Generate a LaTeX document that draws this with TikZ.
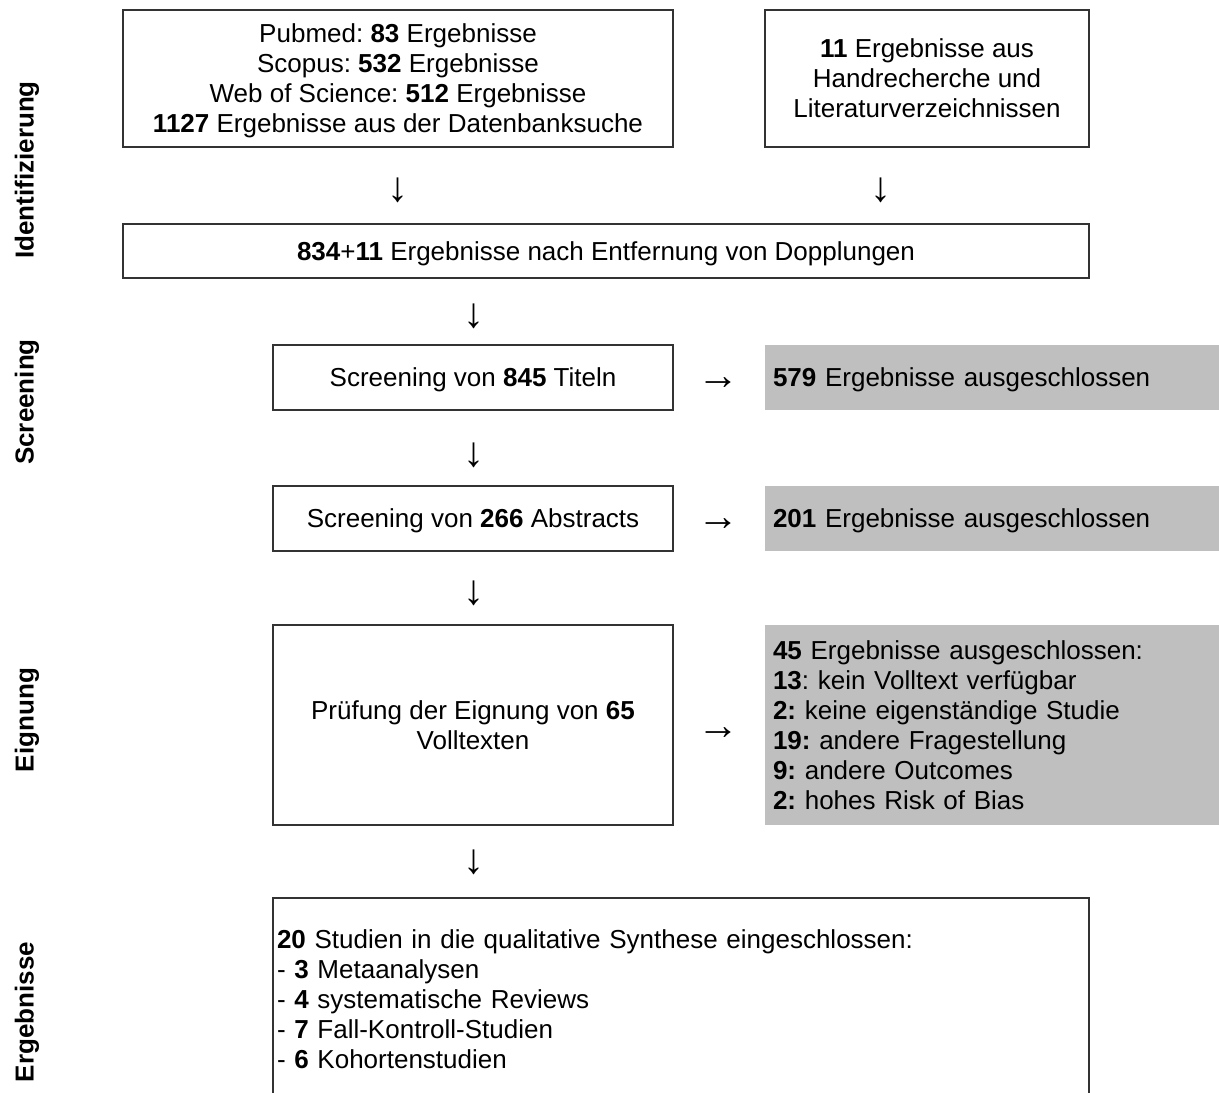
\documentclass[tikz,border=0pt]{standalone}
\usepackage{fontspec}
\setmainfont{Liberation Sans}
\usetikzlibrary{positioning}
\frenchspacing

\begin{document}
\begin{tikzpicture}[x=0.5pt, y=-0.5pt,
  every node/.style={font=\fontsize{13}{15}\selectfont},
  box/.style={draw=black!80, line width=0.8pt, align=center, inner sep=0pt, text depth=0pt},
  grey/.style={fill=black!25, align=left, inner xsep=4pt, text width=219pt, minimum height=32.5pt},
  side/.style={font=\fontsize{13}{15}\selectfont\bfseries, rotate=90},
  pfeil/.style={inner sep=0pt, font=\fontsize{21}{21}\selectfont}]

\useasboundingbox (0,0) rectangle (1219,1092);

\node[side] (id) at (27,170) {Identifizierung};
\node[side] (scr) at (27,402) {Screening};
\node[side] (eig) at (27,720) {Eignung};
\node[side] (erg) at (27,1012) {Ergebnisse};

\node[box, minimum width=275pt, minimum height=68.5pt] (db) at (398,78.5)
  {Pubmed: \textbf{83} Ergebnisse\\Scopus: \textbf{532} Ergebnisse\\Web of Science: \textbf{512} Ergebnisse\\\textbf{1127} Ergebnisse aus der Datenbanksuche};
\node[box, minimum width=162pt, minimum height=68.5pt] (hand) at (927,78.5)
  {\textbf{11} Ergebnisse aus\\Handrecherche und\\Literaturverzeichnissen};

\node[box, minimum width=483pt, minimum height=27pt] (dup) at (606,251)
  {\textbf{834}+\textbf{11} Ergebnisse nach Entfernung von Dopplungen};

\node[box, minimum width=200pt, minimum height=32.5pt] (titel) at (473,377.5) {Screening von \textbf{845} Titeln};
\node[grey, text depth=0pt] (aus1) at (992,377.5) {\textbf{579} Ergebnisse ausgeschlossen};

\node[box, minimum width=200pt, minimum height=32.5pt] (abs) at (473,518.5) {Screening von \textbf{266} Abstracts};
\node[grey, text depth=0pt] (aus2) at (992,518.5) {\textbf{201} Ergebnisse ausgeschlossen};

\node[box, minimum width=200pt, minimum height=100pt] (voll) at (473,725) {Prüfung der Eignung von \textbf{65}\\Volltexten};
\node[grey, minimum height=100pt] (aus3) at (992,725)
  {\textbf{45} Ergebnisse ausgeschlossen:\\\textbf{13}: kein Volltext verfügbar\\\textbf{2:} keine eigenständige Studie\\\textbf{19:} andere Fragestellung\\\textbf{9:} andere Outcomes\\\textbf{2:} hohes Risk of Bias};

\node[draw=black!80, line width=0.8pt, align=left, text width=404pt, inner xsep=2pt, minimum height=101pt] (synth) at (681,999)
  {\textbf{20} Studien in die qualitative Synthese eingeschlossen:\\- \textbf{3} Metaanalysen\\- \textbf{4} systematische Reviews\\- \textbf{7} Fall-Kontroll-Studien\\- \textbf{6} Kohortenstudien};

\foreach \x/\y/\n in {398/190/p1, 881/190/p2, 474/316/p3, 474/455/p5, 474/593/p7, 474/862/p9}{ \node[pfeil] (\n) at (\x,\y) {↓}; }
\foreach \y/\n in {384/p4, 525/p6, 734/p8}{ \node[pfeil] (\n) at (718,\y) {→}; }

\end{tikzpicture}
\end{document}
